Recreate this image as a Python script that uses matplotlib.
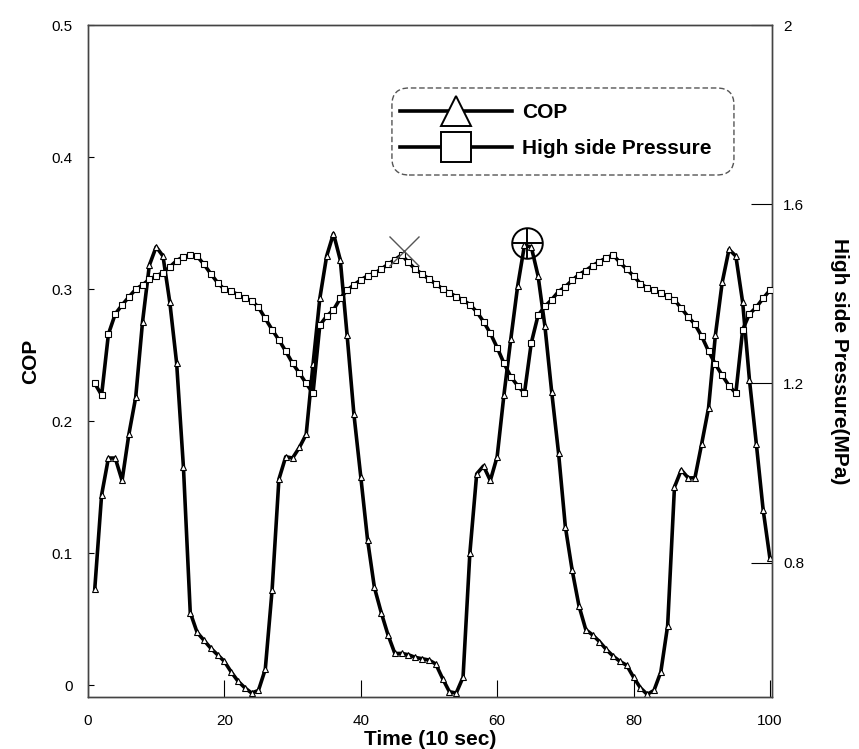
import matplotlib
matplotlib.use("Agg")
import matplotlib.pyplot as plt
from matplotlib.lines import Line2D
from matplotlib.patches import FancyBboxPatch

time = list(range(1, 101))

cop = [0.073, 0.144, 0.172, 0.172, 0.155, 0.190, 0.218, 0.275, 0.318, 0.332,
       0.325, 0.290, 0.244, 0.165, 0.055, 0.040, 0.034, 0.028, 0.023, 0.018,
       0.010, 0.003, -0.002, -0.006, -0.004, 0.012, 0.072, 0.156, 0.173, 0.172,
       0.180, 0.190, 0.243, 0.293, 0.325, 0.342, 0.322, 0.265, 0.205, 0.158,
       0.110, 0.074, 0.055, 0.038, 0.024, 0.024, 0.023, 0.021, 0.020, 0.019,
       0.016, 0.005, -0.005, -0.006, 0.006, 0.100, 0.160, 0.166, 0.155, 0.173,
       0.220, 0.262, 0.302, 0.333, 0.332, 0.310, 0.272, 0.222, 0.176, 0.120,
       0.087, 0.060, 0.042, 0.038, 0.033, 0.027, 0.022, 0.018, 0.015, 0.006,
       -0.002, -0.007, -0.004, 0.010, 0.045, 0.150, 0.163, 0.157, 0.157, 0.183,
       0.210, 0.265, 0.305, 0.330, 0.325, 0.290, 0.231, 0.183, 0.133, 0.096]

pressure = [1.200, 1.174, 1.310, 1.355, 1.375, 1.393, 1.410, 1.420, 1.432, 1.440,
            1.447, 1.460, 1.474, 1.483, 1.487, 1.484, 1.466, 1.445, 1.425, 1.410,
            1.406, 1.398, 1.390, 1.385, 1.370, 1.345, 1.320, 1.297, 1.272, 1.245,
            1.223, 1.200, 1.178, 1.330, 1.350, 1.364, 1.390, 1.408, 1.420, 1.431,
            1.440, 1.446, 1.455, 1.466, 1.476, 1.487, 1.470, 1.455, 1.444, 1.433,
            1.422, 1.411, 1.402, 1.394, 1.386, 1.376, 1.360, 1.338, 1.312, 1.280,
            1.245, 1.215, 1.195, 1.178, 1.290, 1.352, 1.372, 1.387, 1.405, 1.416,
            1.430, 1.443, 1.452, 1.463, 1.472, 1.480, 1.487, 1.470, 1.455, 1.440,
            1.423, 1.413, 1.408, 1.402, 1.395, 1.386, 1.368, 1.349, 1.332, 1.305,
            1.272, 1.243, 1.218, 1.195, 1.178, 1.320, 1.355, 1.370, 1.390, 1.408]

x_ticks = [0, 20, 40, 60, 80, 100]
cop_ticks = [0, 0.1, 0.2, 0.3, 0.4, 0.5]
cop_tick_labels = ["0", "0.1", "0.2", "0.3", "0.4", "0.5"]
p_ticks = [0.8, 1.2, 1.6, 2.0]
p_tick_labels = ["0.8", "1.2", "1.6", "2"]

# annotation markers seen on the plot
x_mark = (46.3, 1.495)      # "x" on pressure axis
circ_mark = (64.4, 0.335)   # circle-plus on COP axis

plt.rcParams['font.family'] = ['Liberation Sans', 'DejaVu Sans']

fig = plt.figure(figsize=(8.59, 7.49), dpi=100)
ax = fig.add_axes([0.1024, 0.0694, 0.7963, 0.8972])
ax2 = ax.twinx()

ax.plot(time, cop, color='black', lw=2.6, marker='^', ms=4.5,
        mfc='white', mec='black', mew=0.8, zorder=3)
ax2.plot(time, pressure, color='black', lw=2.6, marker='s', ms=4.5,
         mfc='white', mec='black', mew=0.8, zorder=3)

ax2.plot([x_mark[0]], [x_mark[1]], marker='x', ms=22, mew=1.0,
         color='#555555', ls='none', zorder=4)
ax.plot([circ_mark[0]], [circ_mark[1]], marker='o', ms=22, mfc='none',
        mec='black', mew=1.4, ls='none', zorder=4)
ax.plot([circ_mark[0]], [circ_mark[1]], marker='+', ms=22, mew=1.4,
        color='black', ls='none', zorder=4)

ax.set_xlim(0, 100.3)
ax.set_ylim(-0.009, 0.5)
ax2.set_ylim(0.5, 2.0)

ax.set_xticks(x_ticks)
ax.set_xticklabels([str(v) for v in x_ticks], fontsize=11)
ax.set_yticks(cop_ticks)
ax.set_yticklabels(cop_tick_labels, fontsize=11)
ax2.set_yticks(p_ticks)
ax2.set_yticklabels(p_tick_labels, fontsize=11)

ax.tick_params(axis='x', direction='in', length=12, width=0.8, pad=12)
ax.tick_params(axis='y', direction='in', length=4, width=0.8, pad=11)
ax2.tick_params(axis='y', direction='in', length=15, width=0.8, pad=8)

for a in (ax, ax2):
    for s in a.spines.values():
        s.set_color('#444444')
        s.set_linewidth(1.0)

ax.set_xlabel("Time (10 sec)", fontsize=15, fontweight='bold', labelpad=2)
ax.set_ylabel("COP", fontsize=15, fontweight='bold', labelpad=8)
ax2.set_ylabel("High side Pressure(MPa)", fontsize=15, fontweight='bold',
               rotation=270, labelpad=32)

# legend frame (rounded, dashed)
box = FancyBboxPatch((0.4444, 0.7768), 0.5, 0.1295,
                     boxstyle="round,pad=0,rounding_size=0.025",
                     transform=ax2.transAxes, facecolor='white',
                     edgecolor='#555555', lw=1.0, ls=(0, (4, 2)), zorder=5)
ax2.add_patch(box)

handles = [
    Line2D([0], [0], color='black', lw=2.6, marker='^', ms=21,
           mfc='white', mec='black', mew=1.4),
    Line2D([0], [0], color='black', lw=2.6, marker='s', ms=21,
           mfc='white', mec='black', mew=1.4),
]
leg = ax2.legend(handles, ["COP", "High side Pressure"], loc='center left',
                 bbox_to_anchor=(0.456, 0.843), frameon=False,
                 handlelength=5.4, handletextpad=0.45, borderpad=0,
                 borderaxespad=0, labelspacing=0.82,
                 prop={'weight': 'bold', 'size': 15})
leg.set_zorder(6)

fig.savefig("out.png", dpi=100)
